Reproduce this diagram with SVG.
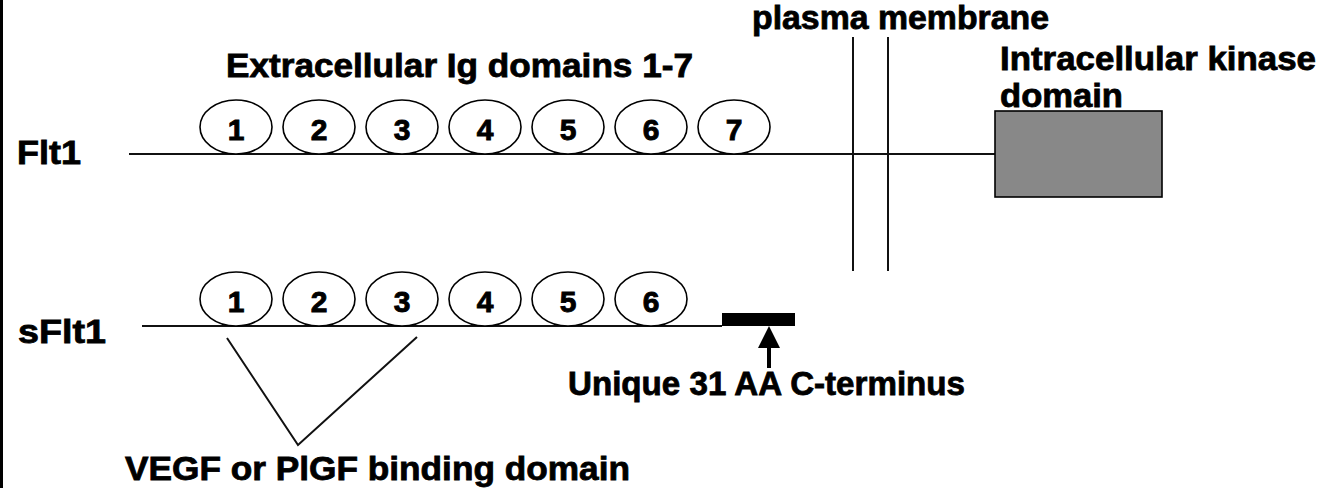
<svg xmlns="http://www.w3.org/2000/svg" width="1321" height="488" viewBox="0 0 1321 488">
<style>
.t{font-family:"Liberation Sans",Arial,sans-serif;font-weight:bold;font-size:33px;fill:#000;stroke:#000;stroke-width:0.8}
.d{font-family:"Liberation Sans",Arial,sans-serif;font-weight:bold;font-size:30px;fill:#000;stroke:#000;stroke-width:0.9;text-anchor:middle}
.dom{fill:#fff;stroke:#000;stroke-width:1.6}
.ln{stroke:#111;stroke-width:2;fill:none}
</style>
<rect x="0" y="0" width="1321" height="488" fill="#fff"/>
<rect x="0" y="0" width="3" height="488" fill="#000"/>
<g id="connectors">
<line class="ln" x1="129" y1="154" x2="995" y2="154"/>
<line class="ln" x1="853" y1="37" x2="853" y2="271"/>
<line class="ln" x1="888" y1="37" x2="888" y2="271"/>
<line class="ln" x1="142" y1="326" x2="722" y2="326"/>
<polyline class="ln" points="227,338 298,445 417,337"/>
<line stroke="#000" stroke-width="4" x1="769" y1="368" x2="769" y2="345"/>
<polygon points="769,326 758,348 780,348" fill="#000"/>
</g>
<g id="label-flt1"><text class="t" x="17" y="164" textLength="64" lengthAdjust="spacingAndGlyphs">Flt1</text></g>
<g id="label-sflt1"><text class="t" x="18" y="343" textLength="88" lengthAdjust="spacingAndGlyphs">sFlt1</text></g>
<g id="label-extracellular"><text class="t" x="226" y="77" textLength="467" lengthAdjust="spacingAndGlyphs">Extracellular Ig domains 1-7</text></g>
<g id="label-membrane"><text class="t" x="752" y="29" textLength="297" lengthAdjust="spacingAndGlyphs">plasma membrane</text></g>
<g id="kinase">
<text class="t" x="1000" y="70" textLength="316" lengthAdjust="spacingAndGlyphs">Intracellular kinase</text>
<text class="t" x="1000" y="107" textLength="123" lengthAdjust="spacingAndGlyphs">domain</text>
<rect x="995" y="111" width="167" height="86" fill="#888" stroke="#000" stroke-width="1.6"/>
</g>
<g id="flt1-domains">
<g id="f1"><ellipse class="dom" cx="236" cy="127" rx="36" ry="27"/><text class="d" x="236" y="140">1</text></g>
<g id="f2"><ellipse class="dom" cx="319" cy="127" rx="36" ry="27"/><text class="d" x="319" y="140">2</text></g>
<g id="f3"><ellipse class="dom" cx="402" cy="127" rx="36" ry="27"/><text class="d" x="402" y="140">3</text></g>
<g id="f4"><ellipse class="dom" cx="485" cy="127" rx="36" ry="27"/><text class="d" x="485" y="140">4</text></g>
<g id="f5"><ellipse class="dom" cx="568" cy="127" rx="36" ry="27"/><text class="d" x="568" y="140">5</text></g>
<g id="f6"><ellipse class="dom" cx="651" cy="127" rx="36" ry="27"/><text class="d" x="651" y="140">6</text></g>
<g id="f7"><ellipse class="dom" cx="734" cy="127" rx="36" ry="27"/><text class="d" x="734" y="140">7</text></g>
</g>
<g id="sflt1-domains">
<g id="s1"><ellipse class="dom" cx="236" cy="299" rx="36" ry="27"/><text class="d" x="236" y="312">1</text></g>
<g id="s2"><ellipse class="dom" cx="319" cy="299" rx="36" ry="27"/><text class="d" x="319" y="312">2</text></g>
<g id="s3"><ellipse class="dom" cx="402" cy="299" rx="36" ry="27"/><text class="d" x="402" y="312">3</text></g>
<g id="s4"><ellipse class="dom" cx="485" cy="299" rx="36" ry="27"/><text class="d" x="485" y="312">4</text></g>
<g id="s5"><ellipse class="dom" cx="568" cy="299" rx="36" ry="27"/><text class="d" x="568" y="312">5</text></g>
<g id="s6"><ellipse class="dom" cx="651" cy="299" rx="36" ry="27"/><text class="d" x="651" y="312">6</text></g>
</g>
<g id="cterminus">
<rect x="722" y="313" width="73" height="13" fill="#000"/>
<text class="t" x="568" y="395" textLength="397" lengthAdjust="spacingAndGlyphs">Unique 31 AA C-terminus</text>
</g>
<g id="binding-label"><text class="t" x="125" y="480" textLength="505" lengthAdjust="spacingAndGlyphs">VEGF or PlGF binding domain</text></g>
</svg>
